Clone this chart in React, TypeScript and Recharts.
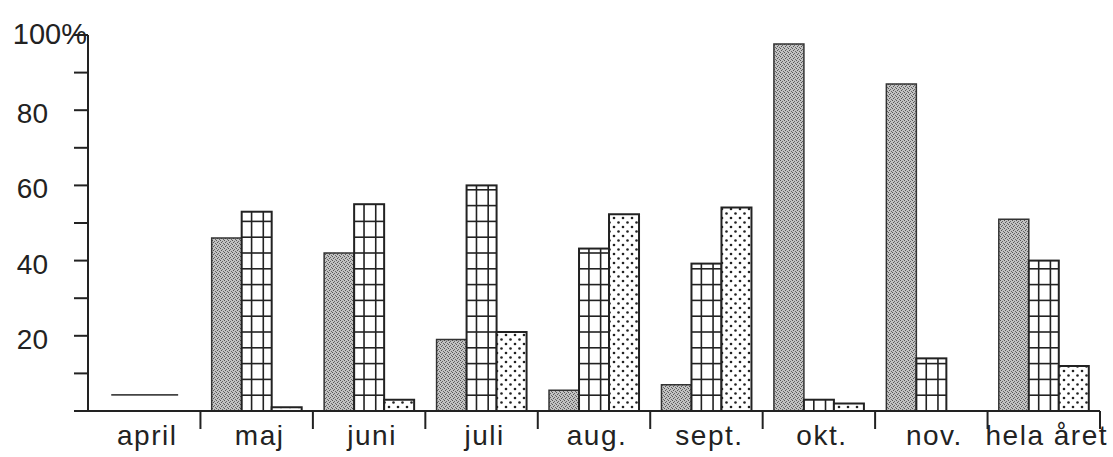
import React from 'react';
import { BarChart, Bar, XAxis, YAxis } from 'recharts';

const categories = ['april', 'maj', 'juni', 'juli', 'aug.', 'sept.', 'okt.', 'nov.', 'hela året'];
const seriesA = [null, 46, 42, 19, 5.5, 7, 97.6, 87, 51];
const seriesB = [null, 53, 55, 60, 43.2, 39.2, 3, 14, 40];
const seriesC = [null, 1, 3, 21, 52.3, 54.1, 2, 0, 12];
const dashMark = [4.3, null, null, null, null, null, null, null, null];
const yTicks = [0, 10, 20, 30, 40, 50, 60, 70, 80, 90, 100];
const yLabelValues = [20, 40, 60, 80, 100];

const data = categories.map((c, i) => ({
  name: c,
  a: seriesA[i],
  b: seriesB[i],
  c: seriesC[i],
  dash: dashMark[i],
}));

const FONT = '"Liberation Sans", Arial, sans-serif';
const INK = '#222';

const GridBar = (p: any) => {
  const { x, y, width, height } = p;
  if (!height || height <= 0) return null;
  const bottom = y + height;
  const lines: any[] = [];
  for (let yy = bottom - 15.8; yy > y + 4; yy -= 15.8) {
    lines.push(<line key={yy} x1={x} x2={x + width} y1={yy} y2={yy} stroke={INK} strokeWidth={1.6} />);
  }
  return (
    <g>
      <rect x={x} y={y} width={width} height={height} fill="#fff" stroke={INK} strokeWidth={2} />
      {height > 8 && (
        <>
          <line x1={x + width * 0.33} x2={x + width * 0.33} y1={y} y2={bottom} stroke={INK} strokeWidth={1.6} />
          <line x1={x + width * 0.72} x2={x + width * 0.72} y1={y} y2={bottom} stroke={INK} strokeWidth={1.6} />
        </>
      )}
      {lines}
    </g>
  );
};

const DashShape = (p: any) => {
  const { x, y, width, height } = p;
  if (height === undefined || height <= 0) return null;
  return <line x1={x + width * 0.4} x2={x + width * 2.63} y1={y} y2={y} stroke="#444" strokeWidth={1.6} />;
};

const YTick = (p: any) => {
  const { x, y, payload } = p;
  const v = payload.value;
  if (!yLabelValues.includes(v)) return null;
  if (v === 100) {
    return (
      <text x={x + 39} y={y + 9} textAnchor="end" fontFamily={FONT} fontSize={29} fill={INK}>
        100%
      </text>
    );
  }
  return (
    <text x={x} y={y + 13} textAnchor="end" fontFamily={FONT} fontSize={28} fill={INK}>
      {v}
    </text>
  );
};

const XTick = (p: any) => {
  const { x, y, payload } = p;
  const off = payload.offset ?? 56;
  return (
    <g>
      <line x1={x + off} x2={x + off} y1={y} y2={y + 18} stroke={INK} strokeWidth={2} />
      <text x={x + 3} y={y + 34} textAnchor="middle" fontFamily={FONT} fontSize={28} fill={INK} letterSpacing={1.5}>
        {payload.value}
      </text>
    </g>
  );
};

export default function App() {
  return (
    <div style={{ position: 'absolute', left: 0, top: 0, width: 1113, height: 457, background: '#fff' }}>
      <svg width={0} height={0} style={{ position: 'absolute' }}>
        <defs>
          <pattern id="stip" width="4" height="4" patternUnits="userSpaceOnUse">
            <rect width="4" height="4" fill="#c2c2c2" />
            <rect x="0" y="0" width="1" height="1" fill="#555" />
            <rect x="2" y="1" width="1" height="1" fill="#666" />
            <rect x="1" y="2" width="1" height="1" fill="#555" />
            <rect x="3" y="3" width="1" height="1" fill="#666" />
          </pattern>
          <pattern id="dots" width="9" height="9" patternUnits="userSpaceOnUse">
            <rect width="9" height="9" fill="#fff" />
            <circle cx="2" cy="2" r="1.3" fill={INK} />
            <circle cx="6.5" cy="6.5" r="1.3" fill={INK} />
          </pattern>
        </defs>
      </svg>
      <BarChart
        width={1113}
        height={457}
        data={data}
        margin={{ top: 35, right: 13, bottom: 0, left: 28 }}
        barCategoryGap="10%"
        barGap={0}
      >
        <XAxis
          dataKey="name"
          height={46}
          axisLine={{ stroke: INK, strokeWidth: 2 }}
          tickLine={false}
          tickSize={0}
          tickMargin={0}
          interval={0}
          tick={<XTick />}
        />
        <YAxis
          width={60}
          domain={[0, 100]}
          ticks={yTicks}
          interval={0}
          axisLine={{ stroke: INK, strokeWidth: 2 }}
          tickLine={{ stroke: INK, strokeWidth: 2 }}
          tickSize={14}
          tickMargin={26}
          tick={<YTick />}
        />
        <Bar dataKey="a" stackId="s" fill="url(#stip)" stroke="#333" strokeWidth={1.5} isAnimationActive={false} />
        <Bar dataKey="dash" stackId="s" shape={<DashShape />} isAnimationActive={false} />
        <Bar dataKey="b" shape={<GridBar />} isAnimationActive={false} />
        <Bar dataKey="c" fill="url(#dots)" stroke={INK} strokeWidth={2} isAnimationActive={false} />
      </BarChart>
    </div>
  );
}
